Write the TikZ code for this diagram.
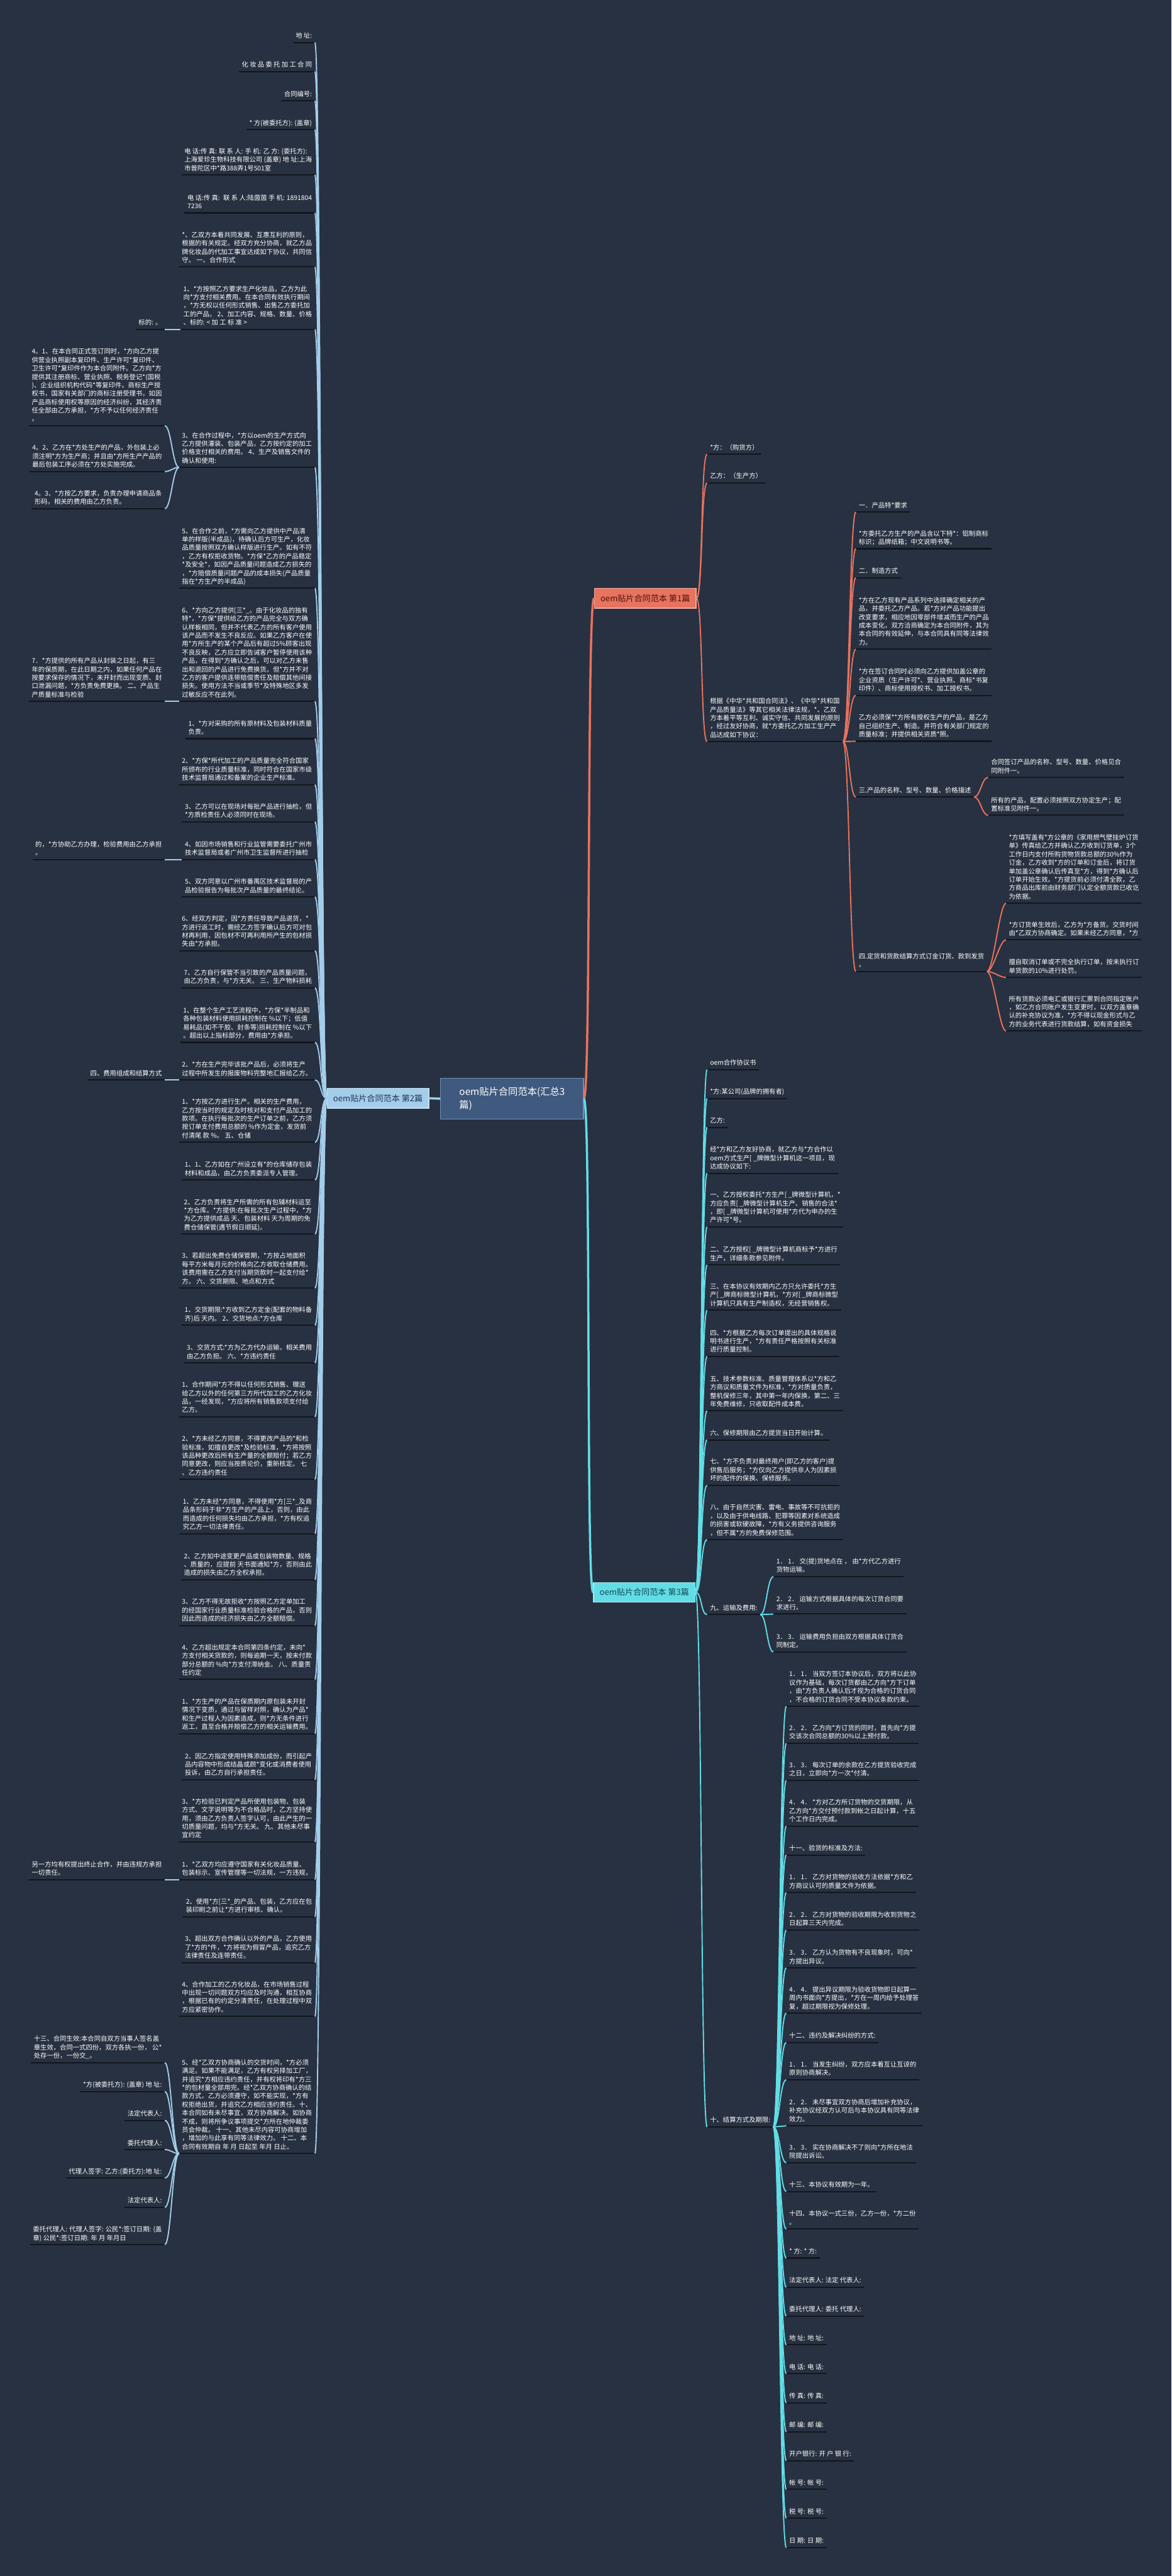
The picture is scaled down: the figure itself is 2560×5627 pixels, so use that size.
\documentclass[tikz,border=0pt]{standalone}
\usepackage{fontspec}
\setmainfont{Noto Sans CJK SC}
\definecolor{bgc}{HTML}{283141}
\definecolor{ulc}{HTML}{12161D}
\definecolor{redc}{HTML}{E8735E}
\definecolor{bluec}{HTML}{A3CDEA}
\definecolor{cyanc}{HTML}{62DDE6}
\definecolor{cfill}{HTML}{3F5A7E}
\definecolor{cline}{HTML}{6F8FB5}
\definecolor{rtext}{HTML}{4A1408}
\definecolor{btext}{HTML}{1E3550}
\definecolor{ctext}{HTML}{134A52}
\tikzset{
  leaf/.style={font=\fontsize{7.1}{9.2}\selectfont, text=white, align=left, inner xsep=3pt, inner ysep=3pt, text depth=1.6pt},
  lnode/.style={leaf, anchor=south east},
  rnode/.style={leaf, anchor=south west},
  uline/.style={draw=ulc, line width=1.4pt},
  cred/.style={draw=redc, line width=1.3pt},
  cblue/.style={draw=bluec, line width=1.3pt},
  ccyan/.style={draw=cyanc, line width=1.3pt},
  rootbox/.style={anchor=west, minimum width=111pt, minimum height=21.5pt, inner sep=2pt, line width=0.8pt, font=\fontsize{9}{11}\selectfont},
  rootred/.style={rootbox, fill=redc, draw=redc!60!white, text=rtext},
  rootblue/.style={rootbox, fill=bluec, draw=bluec!60!white, text=btext},
  rootcyan/.style={rootbox, fill=cyanc, draw=cyanc!60!white, text=ctext},
  cnode/.style={anchor=west, fill=cfill, draw=cline, line width=0.8pt, text=white, align=left, minimum width=156pt, minimum height=45pt, font=\fontsize{10.5}{15}\selectfont}
}
\newcommand\LN[4]{\node[lnode] (#1) at (#2,#3) {#4}; \draw[uline] (#1.south west) -- (#1.south east);}
\newcommand\RN[4]{\node[rnode] (#1) at (#2,#3) {#4}; \draw[uline] (#1.south west) -- (#1.south east);}
\begin{document}
\begin{tikzpicture}[x=0.5pt,y=-0.5pt]
\useasboundingbox (0,0) rectangle (2560,5627);
\fill[bgc] (0,0) rectangle (2560,5627);

% ---------- centre and roots ----------
\node[cnode] (C) at (962,2400) {oem贴片合同范本(汇总3\\篇)};
\node[rootred] (R1) at (1298,1307) {oem贴片合同范本 第1篇};
\node[rootblue] (R2) at (714,2399) {oem贴片合同范本 第2篇};
\node[rootcyan] (R3) at (1296,3478) {oem贴片合同范本 第3篇};

% ---------- branch 2 (left) ----------
\LN{L1}{688}{92.8}{地 址:}
\LN{L2}{688}{156}{化 妆 品 委 托 加 工 合 同}
\LN{L3}{688}{220}{合同编号:}
\LN{L4}{688}{283}{* 方(被委托方): (盖章)}
\LN{L5}{688}{382}{电 话:传 真: 联 系 人: 手 机: 乙 方: (委托方):\\上海爱珍生物科技有限公司 (盖章) 地 址:上海\\市普陀区中*路388弄1号501室}
\LN{L6}{688}{465}{电 话:传 真:~ 联 系 人:陆茵茵 手 机: 1891804\\7236}
\LN{L7}{688}{583}{*、乙双方本着共同发展、互惠互利的原则，\\根据的有关规定。经双方充分协商，就乙方品\\牌化妆品的代加工事宜达成如下协议，共同信\\守。 一、合作形式}
\LN{L8}{688}{719.5}{1、*方按照乙方要求生产化妆品，乙方为此\\向*方支付相关费用。在本合同有效执行期间\\，*方无权以任何形式销售、出售乙方委托加\\工的产品。 2、加工内容、规格、数量、价格\\、标的: < 加 工 标 准 >}
\LN{L8a}{360}{719.5}{标的: 。}
\LN{L9}{688}{1021}{3、在合作过程中，*方以oem的生产方式向\\乙方提供灌装、包装产品，乙方按约定的加工\\价格支付相关的费用。 4、生产及销售文件的\\确认和使用:}
\LN{L9a}{360}{930}{4。1、在本合同正式签订同时，*方向乙方提\\供营业执照副本复印件、生产许可*复印件、\\卫生许可*复印件作为本合同附件。乙方向*方\\提供其注册商标、营业执照、税务登记*(国税\\)、企业组织机构代码*等复印件。商标生产授\\权书，国家有关部门的商标注册受理书，如因\\产品商标使用权等原因的经济纠纷，其经济责\\任全部由乙方承担，*方不予以任何经济责任\\。}
\LN{L9b}{360}{1030}{4。2、乙方在*方处生产的产品，外包装上必\\须注明*方为生产商；并且由*方所生产产品的\\最后包装工序必须在*方处实施完成。}
\LN{L9c}{360}{1111}{4。3、*方按乙方要求，负责办理申请商品条\\形码，相关的费用由乙方负责。}
\LN{L10}{688}{1285}{5、在合作之前，*方需向乙方提供中产品清\\单的样版(半成品)，待确认后方可生产，化妆\\品质量按照双方确认样版进行生产。如有不符\\，乙方有权拒收货物。*方保*乙方的产品稳定\\{}*及安全*，如因产品质量问题造成乙方损失的\\，*方赔偿质量问题产品的成本损失(产品质量\\指在*方生产的半成品)}
\LN{L11}{688}{1532}{6、*方向乙方提供[三*\_。由于化妆品的独有\\特*，*方保*提供给乙方的产品完全与双方确\\认样板相同，但并不代表乙方的所有客户使用\\该产品而不发生不良反应。如果乙方客户在使\\用*方所生产的某个产品后有超过5\%顾客出现\\不良反映，乙方应立即告诫客户暂停使用该种\\产品，在得到*方确认之后，可以对乙方未售\\出和退回的产品进行免费换货。但*方并不对\\乙方的客户提供连带赔偿责任及赔偿其他间接\\损失。使用方法不当或季节*及特殊地区多发\\过敏反应不在此列。}
\LN{L11a}{360}{1532}{7．*方提供的所有产品从封装之日起，有三\\年的保质期，在此日期之内，如果任何产品在\\按要求保存的情况下，未开封而出现变质、封\\口泄漏问题，*方负责免费更换。 二、产品生\\产质量标准与检验}
\LN{L12}{688}{1613.5}{1、*方对采购的所有原材料及包装材料质量\\负责。}
\LN{L13}{688}{1714}{2、*方保*所代加工的产品质量完全符合国家\\所颁布的行业质量标准，同时符合在国家市级\\技术监督局通过和备案的企业生产标准。}
\LN{L14}{688}{1795}{3、乙方可以在现场对每批产品进行抽检，但\\{}*方质检责任人必须同时在现场。}
\LN{L15}{688}{1877.5}{4、如因市场销售和行业监管需要委托广州市\\技术监督局或者广州市卫生监督所进行抽检}
\LN{L15a}{360}{1877.5}{的，*方协助乙方办理，检验费用由乙方承担\\。}
\LN{L16}{688}{1959}{5、双方同意以广州市番禺区技术监督局的产\\品检验报告为每批次产品质量的最终结论。}
\LN{L17}{688}{2077}{6、经双方判定，因*方责任导致产品退货，*\\方进行返工时，需经乙方签字确认后方可对包\\材再利用，因包材不可再利用所产生的包材损\\失由*方承担。}
\LN{L18}{688}{2158}{7、乙方自行保管不当引致的产品质量问题，\\由乙方负责，与*方无关。 三、生产物料损耗}
\LN{L19}{688}{2277}{1、在整个生产工艺流程中，*方保*半制品和\\各种包装材料使用损耗控制在 \%以下；低值\\易耗品(如不干胶、封条等)损耗控制在 \%以下\\。超出以上指标部分，费用由*方承担。}
\LN{L20}{688}{2359}{2、*方在生产完毕该批产品后，必须将生产\\过程中所发生的报废物料完整地汇报给乙方。}
\LN{L20a}{360}{2359}{四、费用组成和结算方式}
\LN{L21}{688}{2495}{1、*方按乙方进行生产。相关的生产费用，\\乙方按当时的规定及时核对和支付产品加工的\\款项。在执行每批次的生产订单之前，乙方须\\按订单支付费用总额的 \%作为定金，发货前\\付清尾 款 \%。 五、仓储}
\LN{L22}{688}{2577.5}{1、1、乙方如在广州设立有*的仓库储存包装\\材料和成品，由乙方负责委派专人管理。}
\LN{L23}{688}{2695.6}{2、乙方负责将生产所需的所有包辅材料运至\\{}*方仓库。*方提供:在每批次生产过程中，*方\\为乙方提供成品 天、包装材料 天为周期的免\\费仓储保管(遇节假日顺延)。}
\LN{L24}{688}{2813.6}{3、若超出免费仓储保管期，*方按占地面积\\每平方米每月元的价格向乙方收取仓储费用。\\该费用需在乙方支付当期货款时一起支付给*\\方。 六、交货期限、地点和方式}
\LN{L25}{688}{2895}{1、交货期限:*方收到乙方定金(配套的物料备\\齐)后 天内。 2、交货地点:*方仓库}
\LN{L26}{688}{2977}{3、交货方式:*方为乙方代办运输，相关费用\\由乙方负担。 六、*方违约责任}
\LN{L27}{688}{3095}{1、合作期间*方不得以任何形式销售、赠送\\给乙方以外的任何第三方所代加工的乙方化妆\\品，一经发现，*方应将所有销售款项支付给\\乙方。}
\LN{L28}{688}{3231.6}{2、*方未经乙方同意，不得更改产品的*和检\\验标准，如擅自更改*及检验标准，*方将按照\\该品种更改后所有生产量的全额赔付；若乙方\\同意更改，则应当按质论价，重新核定。 七\\、乙方违约责任}
\LN{L29}{688}{3350}{1、乙方未经*方同意，不得使用*方[三*\_及商\\品条形码于非*方生产的产品上，否则，由此\\而造成的任何损失均由乙方承担，*方有权追\\究乙方一切法律责任。}
\LN{L30}{688}{3450.6}{2、乙方如中途变更产品或包装物数量、规格\\、质量的，应提前 天书面通知*方，否则由此\\造成的损失由乙方全权承担。}
\LN{L31}{688}{3550.8}{3、乙方不得无故拒收*方按照乙方定单加工\\的经国家行业质量标准检验合格的产品，否则\\因此而造成的经济损失由乙方全额赔偿。}
\LN{L32}{688}{3668.6}{4、乙方超出规定本合同第四条约定，未向*\\方支付相关货款的，则每逾期一天，按未付款\\部分总额的 \%向*方支付滞纳金。 八、质量责\\任约定}
\LN{L33}{688}{3787}{1、*方生产的产品在保质期内原包装未开封\\情况下变质，通过与留样对照，确认为产品*\\和生产过程人为因素造成，则*方无条件进行\\返工，直至合格并赔偿乙方的相关运输费用。}
\LN{L34}{688}{3887.6}{2、因乙方指定使用特殊添加成份，而引起产\\品内容物中形成结晶或颜*变化或消费者使用\\投诉，由乙方自行承担责任。}
\LN{L35}{688}{4023.5}{3、*方检验已判定产品所使用包装物、包装\\方式、文字说明等为不合格品时，乙方坚持使\\用，须由乙方负责人签字认可，由此产生的一\\切质量问题，均与*方无关。 九、其他未尽事\\宜约定}
\LN{L36}{688}{4105.6}{1、*乙双方均应遵守国家有关化妆品质量、\\包装标示、宣传管理等一切法规，一方违规，}
\LN{L36a}{360}{4105.6}{另一方均有权提出终止合作，并由违规方承担\\一切责任。}
\LN{L37}{688}{4187}{2、使用*方[三*\_的产品、包装，乙方应在包\\装印刷之前让*方进行审核、确认。}
\LN{L38}{688}{4287}{3、超出双方合作确认以外的产品，乙方使用\\了*方的*件，*方将视为假冒产品，追究乙方\\法律责任及连带责任。}
\LN{L39}{688}{4404.8}{4、合作加工的乙方化妆品，在市场销售过程\\中出现一切问题双方均应及时沟通，相互协商\\，根据已有的约定分清责任，在处理过程中双\\方应紧密协作。}
\LN{L40}{688}{4704}{5、经*乙双方协商确认的交货时间，*方必须\\满足。如果不能满足，乙方有权另择加工厂，\\并追究*方相应违约责任，并有权将印有*方三\\{}*的包材量全部用完。经*乙双方协商确认的结\\款方式，乙方必须遵守，如不能实现，*方有\\权拒绝出货，并追究乙方相应违约责任。十、\\本合同如有未尽事宜，双方协商解决。如协商\\不成，则将所争议事项提交*方所在地仲裁委\\员会仲裁。 十一、其他未尽内容可协商增加\\，增加的与此享有同等法律效力。 十二、本\\合同有效期自 年 月 日起至 年月 日止。}
\LN{L40a}{360}{4505.6}{十三、合同生效:本合同自双方当事人签名盖\\章生效，合同一式四份，双方各执一份， 公*\\处存一份，一份交\_。}
\LN{L40b}{360}{4568.6}{*方(被委托方): (盖章) 地 址:}
\LN{L40c}{360}{4631.7}{法定代表人:}
\LN{L40d}{360}{4695.6}{委托代理人:}
\LN{L40e}{360}{4757.7}{代理人签字: 乙方:(委托方):地 址:}
\LN{L40f}{360}{4821.7}{法定代表人:}
\LN{L40g}{360}{4903}{委托代理人: 代理人签字: 公民*:签订日期: (盖\\章) 公民*:签订日期: 年 月 年月日}

% ---------- branch 1 (upper right) ----------
\RN{A1}{1545}{992}{*方：（购货方）}
\RN{A2}{1545}{1055}{乙方：（生产方）}
\RN{A3}{1545}{1620}{根据《中华*共和国合同法》、《中华*共和国\\产品质量法》等其它相关法律法规，*、乙双\\方本着平等互利、诚实守信、共同发展的原则\\，经过友好协商，就*方委托乙方加工生产产\\品达成如下协议：}
\RN{B1}{1870}{1118.5}{一．产品特*要求}
\RN{B2}{1870}{1198.6}{*方委托乙方生产的产品含以下特*：铝制商标\\标识；品牌纸箱；中文说明书等。}
\RN{B3}{1870}{1262}{二．制造方式}
\RN{B4}{1870}{1418}{*方在乙方现有产品系列中选择确定相关的产\\品，并委托乙方产品。若*方对产品功能提出\\改变要求，相应地因零部件增减而生产的产品\\成本变化，双方洽商确定为本合同附件，其为\\本合同的有效延伸，与本合同具有同等法律效\\力。}
\RN{B5}{1870}{1519}{*方在签订合同时必须向乙方提供加盖公章的\\企业资质（生产许可*、营业执照、商标*书复\\印件）、商标使用授权书、加工授权书。}
\RN{B6}{1870}{1619}{乙方必须保**方所有授权生产的产品，是乙方\\自己组织生产、制造。并符合有关部门规定的\\质量标准；并提供相关资质*照。}
\RN{B7}{1870}{1741}{三.产品的名称、型号、数量、价格描述}
\RN{B8}{1870}{2122}{四.定货和货款结算方式订金订货、款到发货\\。}
\RN{C1}{2159}{1698}{合同签订产品的名称、型号、数量、价格见合\\同附件一。}
\RN{C2}{2159}{1781}{所有的产品，配置必须按照双方协定生产；配\\置标准见附件一。}
\RN{D1}{2198}{1973}{*方填写盖有*方公章的《家用燃气壁挂炉订货\\单》传真给乙方并确认乙方收到订货单，3个\\工作日内支付所购货物货款总额的30\%作为\\订金，乙方收到*方的订单和订金后，将订货\\单加盖公章确认后传真至*方，得到*方确认后\\订单开始生效。*方提货前必须付清全款，乙\\方商品出库前由财务部门认定全额货款已收讫\\为依据。}
\RN{D2}{2198}{2053}{*方订货单生效后，乙方为*方备货。交货时间\\由*乙双方协商确定。如果未经乙方同意，*方}
\RN{D3}{2198}{2135}{擅自取消订单或不完全执行订单，按未执行订\\单货款的10\%进行处罚。}
\RN{D4}{2198}{2252}{所有货款必须电汇或银行汇票到合同指定账户\\，如乙方合同账户发生变更时，以双方盖章确\\认的补充协议为准，*方不得以现金形式与乙\\方的业务代表进行货款结算，如有资金损失}

% ---------- branch 3 (lower right) ----------
\RN{E1}{1545}{2336.5}{oem合作协议书}
\RN{E2}{1545}{2399.5}{*方:某公司(品牌的拥有者)}
\RN{E3}{1545}{2462.5}{乙方:}
\RN{E4}{1545}{2563}{经*方和乙方友好协商，就乙方与*方合作以\\oem方式生产[ \_牌微型计算机这一项目，现\\达成协议如下:}
\RN{E5}{1545}{2680}{一、乙方授权委托*方生产[ \_牌微型计算机，*\\方应负责[ \_牌微型计算机生产、销售的合法*\\，即[ \_牌微型计算机可使用*方代为申办的生\\产许可*号。}
\RN{E6}{1545}{2763}{二、乙方授权[ \_牌微型计算机商标予*方进行\\生产，详细条款参见附件。}
\RN{E7}{1545}{2862}{三、在本协议有效期内乙方只允许委托*方生\\产[ \_牌商标微型计算机，*方对[ \_牌商标微型\\计算机只具有生产制造权，无经营销售权。}
\RN{E8}{1545}{2963}{四、*方根据乙方每次订单提出的具体规格说\\明书进行生产，*方有责任严格按照有关标准\\进行质量控制。}
\RN{E9}{1545}{3082}{五、技术参数标准、质量管理体系以*方和乙\\方商议和质量文件为标准，*方对质量负责，\\整机保修三年，其中第一年内保换，第二、三\\年免费维修，只收取配件成本费。}
\RN{E10}{1545}{3145.4}{六、保修期限由乙方提货当日开始计算。}
\RN{E11}{1545}{3244.5}{七、*方不负责对最终用户(即乙方的客户)提\\供售后服务；*方仅向乙方提供非人为因素损\\坏的配件的保换、保修服务。}
\RN{E12}{1545}{3363}{八、由于自然灾害、雷电、事故等不可抗拒的\\，以及由于供电线路、犯罪等因素对系统造成\\的损害或软硬故障，*方有义务提供咨询服务\\，但不属*方的免费保修范围。}
\RN{E13}{1545}{3527}{九、运输及费用:}
\RN{E14}{1545}{4646}{十、结算方式及期限:}
\RN{F1}{1690}{3444}{1． 1． 交(提)货地点在 ， 由*方代乙方进行\\货物运输。}
\RN{F2}{1690}{3525.7}{2． 2． 运输方式根据具体的每次订货合同要\\求进行。}
\RN{F3}{1690}{3608.5}{3． 3． 运输费用负担由双方根据具体订货合\\同制定。}
\RN{G1}{1718}{3727}{1． 1． 当双方签订本协议后，双方将以此协\\议作为基础，每次订货都由乙方向*方下订单\\，由*方负责人确认后才视为合格的订货合同\\，不合格的订货合同不受本协议条款约束。}
\RN{G2}{1718}{3808}{2． 2． 乙方向*方订货的同时，首先向*方提\\交该次合同总额的30\%以上预付款。}
\RN{G3}{1718}{3889}{3． 3． 每次订单的余款在乙方提货验收完成\\之日，立即向*方一次*付清。}
\RN{G4}{1718}{3989}{4． 4． *方对乙方所订货物的交货期限，从\\乙方向*方交付预付款到帐之日起计算，十五\\个工作日内完成。}
\RN{G5}{1718}{4052}{十一、验货的标准及方法:}
\RN{G6}{1718}{4134}{1． 1． 乙方对货物的验收方法依据*方和乙\\方商议认可的质量文件为依据。}
\RN{G7}{1718}{4216}{2． 2． 乙方对货物的验收期限为收到货物之\\日起算三天内完成。}
\RN{G8}{1718}{4298.5}{3． 3． 乙方认为货物有不良现象时，可向*\\方提出异议。}
\RN{G9}{1718}{4397.6}{4． 4． 提出异议期限为验收货物即日起算一\\周内书面向*方提出，*方在一周内给予处理答\\复，超过期限视为保修处理。}
\RN{G10}{1718}{4461.5}{十二、违约及解决纠纷的方式:}
\RN{G11}{1718}{4543}{1． 1． 当发生纠纷，双方应本着互让互谅的\\原则协商解决。}
\RN{G12}{1718}{4643.6}{2． 2． 未尽事宜双方协商后增加补充协议，\\补充协议经双方认可后与本协议具有同等法律\\效力。}
\RN{G13}{1718}{4724}{3． 3． 实在协商解决不了则向*方所在地法\\院提出诉讼。}
\RN{G14}{1718}{4787}{十三、本协议有效期为一年。}
\RN{G15}{1718}{4869}{十四、本协议一式三份，乙方一份，*方二份\\。}
\RN{G16}{1718}{4932.5}{* 方: * 方:}
\RN{G17}{1718}{4996}{法定代表人: 法定 代表人:}
\RN{G18}{1718}{5059}{委托代理人: 委托 代理人:}
\RN{G19}{1718}{5122}{地 址: 地 址:}
\RN{G20}{1718}{5185}{电 话: 电 话:}
\RN{G21}{1718}{5248.5}{传 真: 传 真:}
\RN{G22}{1718}{5312}{邮 编: 邮 编:}
\RN{G23}{1718}{5375}{开户银行: 开 户 银 行:}
\RN{G24}{1718}{5438}{帐 号: 帐 号:}
\RN{G25}{1718}{5501}{税 号: 税 号:}
\RN{G26}{1718}{5565}{日 期: 日 期:}

% ---------- connectors ----------
\draw[cred, line width=2.4pt] (C.east) .. controls +(16,0) and +(-16,0) .. (R1.west);
\draw[ccyan, line width=2.4pt] (C.east) .. controls +(16,0) and +(-16,0) .. (R3.west);
\draw[cblue, line width=2.4pt] (C.west) -- (R2.east);

\foreach \i in {1,...,40}
  \draw[cblue] (L\i.south east) .. controls +(14,0) and +(-14,0) .. (R2.west);
\foreach \p/\c in {L8/L8a, L9/L9a, L9/L9b, L9/L9c, L11/L11a, L15/L15a, L20/L20a, L36/L36a, L40/L40a, L40/L40b, L40/L40c, L40/L40d, L40/L40e, L40/L40f, L40/L40g}
  \draw[cblue] (\p.south west) .. controls +(-14,0) and +(14,0) .. (\c.south east);

\foreach \c in {A1,A2,A3}
  \draw[cred] (R1.east) .. controls +(14,0) and +(-14,0) .. (\c.south west);
\foreach \c in {B1,B2,B3,B4,B5,B6,B7,B8}
  \draw[cred] (A3.south east) .. controls +(14,0) and +(-14,0) .. (\c.south west);
\foreach \c in {C1,C2}
  \draw[cred] (B7.south east) .. controls +(14,0) and +(-14,0) .. (\c.south west);
\foreach \c in {D1,D2,D3,D4}
  \draw[cred] (B8.south east) .. controls +(14,0) and +(-14,0) .. (\c.south west);

\foreach \i in {1,...,14}
  \draw[ccyan] (R3.east) .. controls +(14,0) and +(-14,0) .. (E\i.south west);
\foreach \i in {1,2,3}
  \draw[ccyan] (E13.south east) .. controls +(14,0) and +(-14,0) .. (F\i.south west);
\foreach \i in {1,...,26}
  \draw[ccyan] (E14.south east) .. controls +(14,0) and +(-14,0) .. (G\i.south west);
\end{tikzpicture}
\end{document}
